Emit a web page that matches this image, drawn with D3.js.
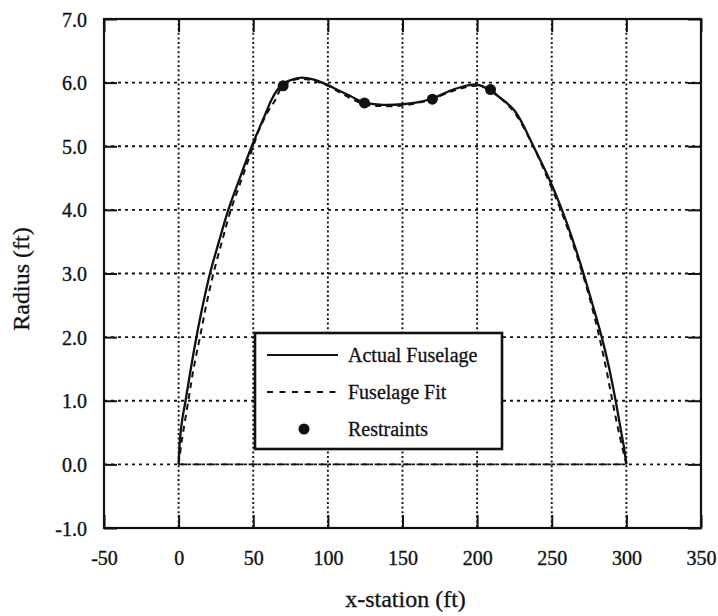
<!DOCTYPE html>
<html><head><meta charset="utf-8">
<script src="https://cdn.jsdelivr.net/npm/d3@7"></script>
<style>
html,body{margin:0;padding:0;background:#fff;}
text{font-family:"Liberation Serif","Times New Roman",serif;fill:#111;}
</style></head>
<body>
<svg id="chart" width="718" height="616"></svg>
<script>
// ---- data ----
const actualX = [0, 1, 2.5, 4.5, 8, 11.7, 16, 21, 27, 33.3, 41, 49, 58, 62, 66.6, 70, 75, 82.5, 90, 100, 107, 115, 124, 137, 150, 160, 170, 185, 197, 203, 208.6, 215, 225.4, 237.7, 248, 256, 263, 271, 277, 283.5, 288, 292.4, 296, 298.5, 300];
const actualY = [0, 0.42, 0.72, 0.98, 1.48, 1.97, 2.48, 3.0, 3.5, 4.0, 4.5, 5.0, 5.5, 5.72, 5.9, 5.98, 6.04, 6.08, 6.05, 5.96, 5.88, 5.79, 5.69, 5.65, 5.66, 5.69, 5.75, 5.9, 5.97, 5.95, 5.88, 5.77, 5.55, 5.0, 4.5, 4.05, 3.6, 3.02, 2.54, 2.0, 1.56, 1.05, 0.58, 0.25, 0];
const fitX = [0, 2, 6.5, 10, 14.3, 18.5, 23.3, 29, 35, 42.5, 50, 54.5, 60, 64.6, 69.7, 75, 82, 90, 100, 110, 124.4, 137, 150, 160, 169.6, 185, 199, 208.6, 215, 225, 238, 248, 256, 263, 271, 277, 281.9, 286.5, 290.6, 295, 300];
const fitY = [0, 0.35, 1.0, 1.5, 2.0, 2.5, 3.0, 3.5, 4.0, 4.5, 5.0, 5.29, 5.55, 5.72, 5.95, 6.03, 6.06, 6.03, 5.95, 5.82, 5.66, 5.63, 5.64, 5.68, 5.74, 5.88, 5.95, 5.89, 5.77, 5.53, 4.98, 4.45, 4.0, 3.55, 2.97, 2.47, 2.0, 1.5, 1.0, 0.5, 0];
const restraintX = [70, 124.5, 170, 209];
const restraintY = [5.95, 5.68, 5.74, 5.89];
const xTicks = [-50, 0, 50, 100, 150, 200, 250, 300, 350];
const yTicks = [-1, 0, 1, 2, 3, 4, 5, 6, 7];
const legendLabels = ["Actual Fuselage", "Fuselage Fit", "Restraints"];
const xTitle = "x-station (ft)";
const yTitle = "Radius (ft)";

// ---- layout ----
const L = 104, R = 701, T = 19, B = 528;
const svg = d3.select("#chart");
const x = d3.scaleLinear().domain([-50, 350]).range([L, R]);
const y = d3.scaleLinear().domain([-1, 7]).range([B, T]);
const hy = s => String(s).replace("\u2212", "-");

// grid
const grid = svg.append("g");
grid.selectAll(".vg").data(xTicks.slice(1, -1)).join("line")
  .attr("x1", d => x(d)).attr("x2", d => x(d)).attr("y1", T).attr("y2", B)
  .attr("stroke", "#111").attr("stroke-width", 1.9).attr("stroke-dasharray", "2,2.6");
grid.selectAll(".hg").data(yTicks.slice(1, -1)).join("line")
  .attr("y1", d => y(d)).attr("y2", d => y(d)).attr("x1", L).attr("x2", R)
  .attr("stroke", "#111").attr("stroke-width", 1.9).attr("stroke-dasharray", "3,4");

// axes with inward ticks on all sides
const tl = 13;
const gB = svg.append("g").attr("transform", `translate(0,${B})`).call(d3.axisTop(x).tickValues(xTicks).tickSize(tl).tickFormat(""));
const gT = svg.append("g").attr("transform", `translate(0,${T})`).call(d3.axisBottom(x).tickValues(xTicks).tickSize(tl).tickFormat(""));
const gL = svg.append("g").attr("transform", `translate(${L},0)`).call(d3.axisRight(y).tickValues(yTicks).tickSize(tl).tickFormat(""));
const gR = svg.append("g").attr("transform", `translate(${R},0)`).call(d3.axisLeft(y).tickValues(yTicks).tickSize(tl).tickFormat(""));
[gB, gT, gL, gR].forEach(g => {
  g.select(".domain").remove();
  g.selectAll("line").attr("stroke", "#111").attr("stroke-width", 2);
});

// tick labels
const axB = d3.axisBottom(x).tickValues(xTicks).tickSize(0).tickPadding(0).tickFormat(d => hy(d));
const axL = d3.axisLeft(y).tickValues(yTicks).tickSize(0).tickPadding(0).tickFormat(d => hy(d3.format(".1f")(d)));
const lbB = svg.append("g").attr("transform", `translate(0,${B})`).call(axB);
lbB.select(".domain").remove();
lbB.selectAll("text").attr("y", 37).attr("dy", 0).attr("font-size", 20)
  .style("font-family", '"Liberation Serif",serif').attr("fill", "#111")
  .attr("stroke", "#111").attr("stroke-width", 0.35);
const lbL = svg.append("g").attr("transform", `translate(${L},0)`).call(axL);
lbL.select(".domain").remove();
lbL.selectAll("text").attr("x", -17).attr("dy", "0.35em").attr("font-size", 20)
  .style("font-family", '"Liberation Serif",serif').attr("fill", "#111")
  .attr("stroke", "#111").attr("stroke-width", 0.35);

// baseline of the fit at r = 0
svg.append("line").attr("x1", x(fitX[0])).attr("x2", x(fitX[fitX.length - 1]))
  .attr("y1", y(0)).attr("y2", y(0)).attr("stroke", "#111").attr("stroke-width", 1.8)
  .attr("stroke-dasharray", "9,5");

// curves
const lineGen = d3.line().x(d => x(d[0])).y(d => y(d[1])).curve(d3.curveCatmullRom.alpha(0.5));
svg.append("path").datum(fitX.map((v, i) => [v, fitY[i]])).attr("d", lineGen)
  .attr("fill", "none").attr("stroke", "#111").attr("stroke-width", 2).attr("stroke-dasharray", "6,5");
svg.append("path").datum(actualX.map((v, i) => [v, actualY[i]])).attr("d", lineGen)
  .attr("fill", "none").attr("stroke", "#111").attr("stroke-width", 2.3);
svg.selectAll(".pt").data(restraintX.map((v, i) => [v, restraintY[i]])).join("circle")
  .attr("cx", d => x(d[0])).attr("cy", d => y(d[1])).attr("r", 5.5).attr("fill", "#111");

// frame
svg.append("rect").attr("x", L).attr("y", T).attr("width", R - L).attr("height", B - T)
  .attr("fill", "none").attr("stroke", "#111").attr("stroke-width", 2.2);

// legend
const lg = svg.append("g");
lg.append("rect").attr("x", 255).attr("y", 333).attr("width", 247).attr("height", 116)
  .attr("fill", "#fff").attr("stroke", "#111").attr("stroke-width", 2.6);
const rows = [355, 392, 429];
lg.append("line").attr("x1", 267).attr("x2", 338).attr("y1", rows[0]).attr("y2", rows[0])
  .attr("stroke", "#111").attr("stroke-width", 1.9);
lg.append("line").attr("x1", 267).attr("x2", 338).attr("y1", rows[1]).attr("y2", rows[1])
  .attr("stroke", "#111").attr("stroke-width", 1.9).attr("stroke-dasharray", "6,6.5");
lg.append("circle").attr("cx", 304).attr("cy", rows[2]).attr("r", 5.5).attr("fill", "#111");
lg.selectAll(".lt").data(legendLabels).join("text")
  .attr("x", 348).attr("y", (d, i) => rows[i]).attr("dy", "0.35em")
  .attr("font-size", 20).attr("stroke", "#111").attr("stroke-width", 0.3).text(d => d);

// titles
svg.append("text").attr("x", (L + R) / 2 + 3).attr("y", 607).attr("text-anchor", "middle")
  .attr("font-size", 24).attr("stroke", "#111").attr("stroke-width", 0.3).text(xTitle);
svg.append("text").attr("transform", "translate(29,279) rotate(-90)").attr("text-anchor", "middle")
  .attr("font-size", 24).attr("stroke", "#111").attr("stroke-width", 0.3).text(yTitle);
</script>
</body></html>
